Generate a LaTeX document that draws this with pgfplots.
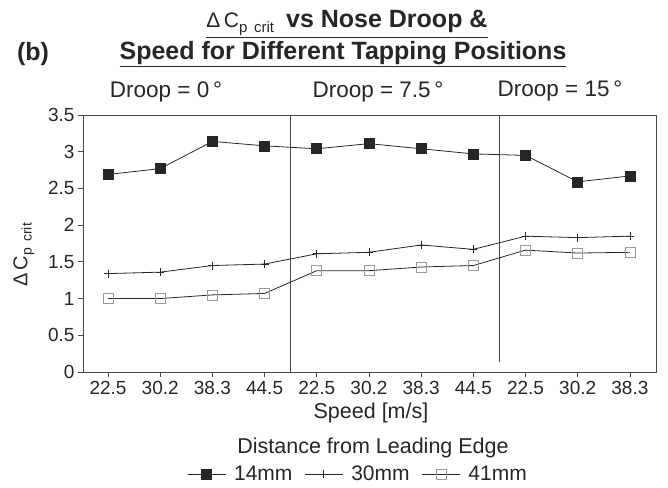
\documentclass[border=0pt]{standalone}
\usepackage{pgfplots}
\pgfplotsset{compat=1.18}
\usepackage{fontspec}
\setmainfont{Liberation Sans}

\definecolor{ink}{HTML}{262626}
\definecolor{frame}{HTML}{4a4a4a}
\definecolor{opengray}{HTML}{9a9a9a}

% Delta C_p crit in text form
\newcommand{\dcp}[1]{Δ\,C{\fontsize{#1}{#1}\selectfont\raisebox{-0.3em}{p\ \,crit}}}

\pgfplotstableread{
x  a14  a30  a41
0  2.69 1.34 1.00
1  2.77 1.36 1.00
2  3.14 1.45 1.05
3  3.08 1.47 1.07
4  3.04 1.61 1.38
5  3.11 1.63 1.38
6  3.04 1.73 1.43
7  2.97 1.67 1.45
8  2.95 1.85 1.66
9  2.59 1.83 1.62
10 2.67 1.85 1.63
}\droopdata

\begin{document}
\begin{tikzpicture}[x=1pt,y=1pt]
\useasboundingbox (-83,-115) rectangle (585,372);

% titles
\node[anchor=center,text=ink] at (264,348)
  {\underline{{\fontsize{21}{24}\selectfont\dcp{15}}\hspace{12pt}{\fontsize{25}{28}\selectfont\bfseries vs Nose Droop \&}}};
\node[anchor=center,text=ink] at (260,318)
  {\fontsize{25}{28}\selectfont\bfseries\underline{Speed for Different Tapping Positions}};
\node[anchor=center,text=ink] at (-50,318) {\fontsize{25}{28}\selectfont\bfseries (b)};

% group headings
\node[anchor=center,text=ink] at (83,280) {\fontsize{22.5}{26}\selectfont Droop = 0\,°};
\node[anchor=center,text=ink] at (295,280) {\fontsize{22.5}{26}\selectfont Droop = 7.5\,°};
\node[anchor=center,text=ink] at (477,281) {\fontsize{22.5}{26}\selectfont Droop = 15\,°};

% axis titles and legend heading
\node[anchor=center,text=ink,rotate=90] at (-59,117) {\fontsize{20}{23}\selectfont\dcp{14}};
\node[anchor=center,text=ink] at (288,-41) {\fontsize{21.5}{24}\selectfont Speed [m/s]};
\node[anchor=center,text=ink] at (290,-76) {\fontsize{21.5}{24}\selectfont Distance from Leading Edge};

\begin{axis}[
  at={(0,0)}, anchor=south west,
  scale only axis, width=573pt, height=257pt,
  xmin=-0.48, xmax=10.5, ymin=0, ymax=3.5,
  xtick={0,...,10},
  xticklabels={22.5,30.2,38.3,44.5,22.5,30.2,38.3,44.5,22.5,30.2,38.3},
  ytick={0,0.5,1,1.5,2,2.5,3,3.5},
  yticklabels={0,0.5,1,1.5,2,2.5,3,3.5},
  tick pos=left, tick align=outside, major tick length=5pt,
  axis line style={frame, line width=0.9pt},
  tick style={frame, line width=0.8pt},
  ticklabel style={font=\fontsize{19}{22}\selectfont, text=ink},
  xticklabel style={yshift=-1pt},
  legend columns=3,
  legend style={draw=none, fill=none, at={(axis description cs:0.48,-0.398)}, anchor=center,
    font=\fontsize{21}{23}\selectfont, text=ink, inner ysep=0pt,
    nodes={inner ysep=1pt},
    /tikz/every even column/.append style={column sep=10pt},
    /tikz/every odd column/.append style={column sep=6pt}},
  legend image code/.code={\draw[mark repeat=2,mark phase=2,#1]
    plot coordinates {(0pt,0pt) (19pt,0pt) (38pt,0pt)};},
]
\draw[frame, line width=0.8pt] (axis cs:3.5,0) -- (axis cs:3.5,3.5);
\draw[frame, line width=0.8pt] (axis cs:7.5,0.13) -- (axis cs:7.5,3.5);

\addplot[ink, line width=0.8pt, mark=square*, mark size=5pt,
  mark options={fill=ink, draw=ink, line width=0.6pt}] table[x=x, y=a14] {\droopdata};
\addplot[ink, line width=0.8pt, mark=+, mark size=4pt,
  mark options={line width=0.8pt}] table[x=x, y=a30] {\droopdata};
\addplot[ink, line width=0.8pt, mark=square, mark size=5pt,
  mark options={draw=opengray, fill=white, line width=0.8pt}] table[x=x, y=a41] {\droopdata};
\legend{14mm, 30mm, 41mm}
\end{axis}
\end{tikzpicture}
\end{document}
